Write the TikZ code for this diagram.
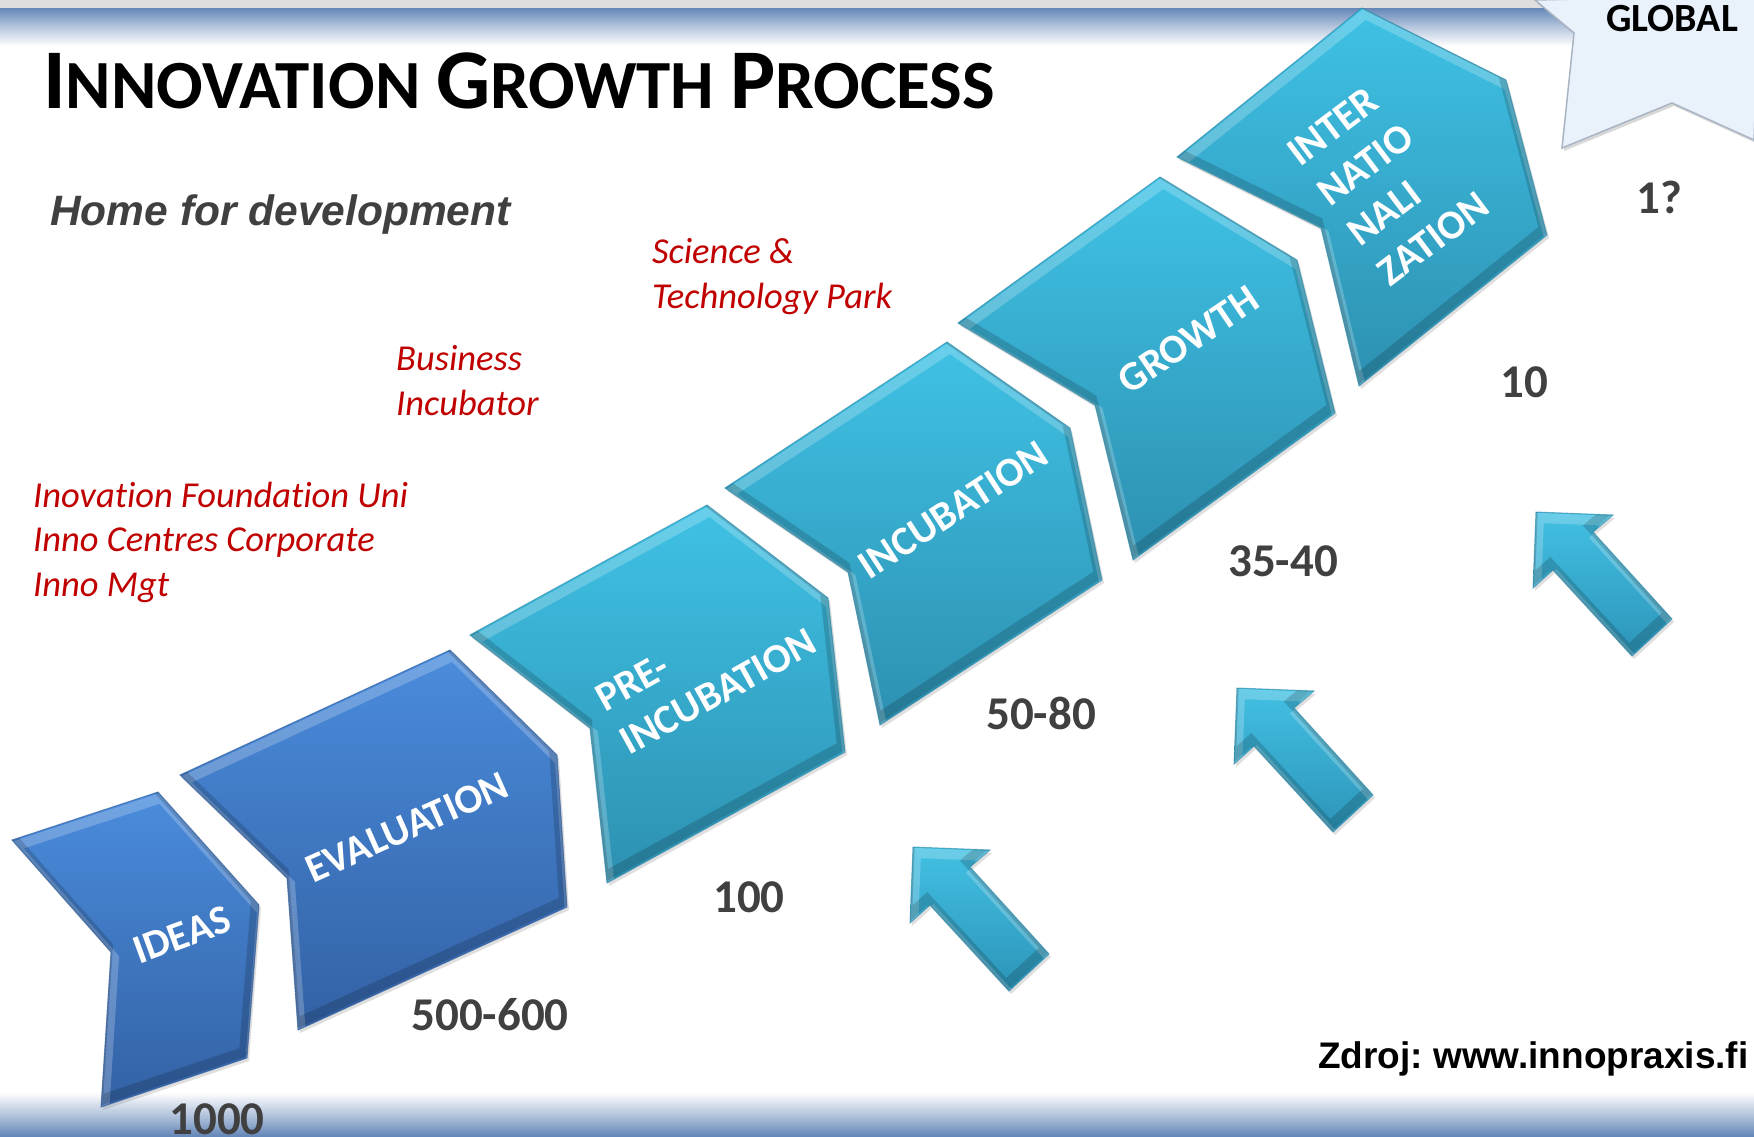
\documentclass[tikz,border=0pt]{standalone}
\usepackage{fontspec}
\setmainfont{Carlito}[Ligatures=NoCommon]
\newfontfamily\arialf{Liberation Sans}
\usetikzlibrary{shadows}
\frenchspacing
\definecolor{blueTop}{HTML}{4A8CDC}
\definecolor{blueBot}{HTML}{3361A4}
\definecolor{blueEdge}{HTML}{2E5A9A}
\definecolor{tealTop}{HTML}{3FC2E5}
\definecolor{tealBot}{HTML}{2D90B1}
\definecolor{tealEdge}{HTML}{2A86A6}
\definecolor{numGray}{HTML}{404040}
\definecolor{redText}{HTML}{C00000}
\definecolor{hdrBlue}{HTML}{6487B9}
\definecolor{hdrMid}{HTML}{B3C4DC}
\definecolor{hdrGray}{HTML}{DEDEDE}
\definecolor{globalFill}{HTML}{E9F1FB}
\definecolor{globalEdge}{HTML}{A9B5C3}
\definecolor{arrowTop}{HTML}{42C0E3}
\definecolor{arrowBot}{HTML}{2C94B8}
\definecolor{arrowEdge}{HTML}{2A86A6}

\tikzset{
  blueshape/.style={top color=blueTop, bottom color=blueBot,
    drop shadow={opacity=0.25, shadow xshift=2pt, shadow yshift=-3pt}},
  tealshape/.style={top color=tealTop, bottom color=tealBot,
    drop shadow={opacity=0.25, shadow xshift=2pt, shadow yshift=-3pt}},
  arrowshape/.style={top color=arrowTop, bottom color=arrowBot,
    drop shadow={opacity=0.25, shadow xshift=2pt, shadow yshift=-3pt}},
  lbl/.style={text=white, font=\bfseries\fontsize{41}{50}\selectfont, inner sep=0pt},
  num/.style={text=numGray, font=\bfseries\fontsize{47}{50}\selectfont, inner sep=0pt, anchor=base},
  redtxt/.style={text=redText, font=\itshape\fontsize{36.5}{44.5}\selectfont, inner sep=0pt, align=left, anchor=base west},
}

\newcommand\bevelshape[3]{%
  \path[#1] #2;
  \begin{scope}
    \clip #2;
    \draw[white, opacity=0.22, line width=10pt, shift={(3,6)}] #2;
    \draw[black, opacity=0.16, line width=10pt, shift={(-3,-6)}] #2;
  \end{scope}
  \draw[#3, line width=1pt, opacity=0.6] #2;
}

\def\pIdeas{(12,840) -- (158,792) -- (259,905) -- (247,1058) -- (101,1107) -- (111,952) -- cycle}
\def\pEval{(180,775) -- (450,650) -- (557,755) -- (567,907) -- (298,1030) -- (287,878) -- cycle}
\def\pPre{(470,635) -- (707,505) -- (828,598) -- (845,752) -- (607,883) -- (590,728) -- cycle}
\def\pInc{(725,488) -- (947,342) -- (1070,428) -- (1102,580) -- (880,725) -- (848,572) -- cycle}
\def\pGro{(958,323) -- (1160,177) -- (1297,260) -- (1335,413) -- (1133,560) -- (1095,405) -- cycle}
\def\pInt{(1177,157) -- (1362,8) -- (1506,80) -- (1547,235) -- (1359,386) -- (1321,228) -- cycle}
\def\pArrow{(0,0) -- (77,3) -- (57,20) -- (136,107) -- (96,144) -- (17,58) -- (-3,76) -- cycle}
\def\pGlob{(1535,0) -- (1574,33) -- (1562,148) -- (1672,103) -- (1754,140) -- (1760,-5) -- cycle}

\newcommand\bigC[1]{{\fontsize{85}{85}\selectfont #1}}
\newcommand\smC[1]{{\fontsize{69}{69}\selectfont #1}}

\begin{document}
\begin{tikzpicture}[x=1pt,y=-1pt]
\useasboundingbox (0,0) rectangle (1754,1136);
\clip (0,0) rectangle (1754,1136);
\fill[white] (0,0) rectangle (1754,1136);

% header and footer bands
\fill[hdrGray] (0,0) rectangle (1754,8);
\shade[top color=hdrBlue, bottom color=hdrMid] (0,8) rectangle (1754,26);
\shade[top color=hdrMid, bottom color=white] (0,26) rectangle (1754,46);
\shade[top color=white, bottom color=hdrMid] (0,1092) rectangle (1754,1115);
\shade[top color=hdrMid, bottom color=hdrBlue] (0,1115) rectangle (1754,1136);

% GLOBAL burst
\path[fill=globalFill, draw=globalEdge, line width=1.5pt,
  drop shadow={opacity=0.3, shadow xshift=2pt, shadow yshift=-3pt}] \pGlob;

% process shapes
\bevelshape{blueshape}{\pIdeas}{blueEdge}
\bevelshape{blueshape}{\pEval}{blueEdge}
\bevelshape{tealshape}{\pPre}{tealEdge}
\bevelshape{tealshape}{\pInc}{tealEdge}
\bevelshape{tealshape}{\pGro}{tealEdge}
\bevelshape{tealshape}{\pInt}{tealEdge}

% block arrows
\begin{scope}[shift={(913,847)}]
  \bevelshape{arrowshape}{\pArrow}{arrowEdge}
\end{scope}
\begin{scope}[shift={(1237,688)}]
  \bevelshape{arrowshape}{\pArrow}{arrowEdge}
\end{scope}
\begin{scope}[shift={(1536,512)}]
  \bevelshape{arrowshape}{\pArrow}{arrowEdge}
\end{scope}

% shape labels
\node[lbl, rotate=20] (ideasL) at (182,935) {IDEAS};
\node[lbl, rotate=24] (evalL) at (407,827) {EVALUATION};
\node[lbl, rotate=29, align=left] (preL) at (706,670) {PRE-\\INCUBATION};
\node[lbl, rotate=33] (incL) at (953,510) {INCUBATION};
\node[lbl, rotate=34] (groL) at (1188,340) {GROWTH};
\node[lbl, rotate=37, align=left] (intL) at (1388,179) {INTER\\NATIO\\NALI\\ZATION};

% numbers
\node[num] (n1000) at (217,1134) {1000};
\node[num] (n500) at (490,1030) {500-600};
\node[num] (n100) at (749,912) {100};
\node[num] (n50) at (1041,729) {50-80};
\node[num] (n35) at (1283,576) {35-40};
\node[num] (n10) at (1524,397) {10};
\node[num] (n1) at (1659,213) {1?};
\node[anchor=base, inner sep=0pt, font=\bfseries\fontsize{40}{40}\selectfont] (glob) at (1672,31) {GLOBAL};

% title and texts
\node[anchor=base west, inner sep=0pt, font=\bfseries\fontsize{69}{69}\selectfont] (title) at (43,108)
  {\bigC{I}\smC{NNOVATION} \bigC{G}\smC{ROWTH} \bigC{P}\smC{ROCESS}};
\node[anchor=base west, inner sep=0pt, text=numGray,
  font={\arialf\fontsize{42.5}{50}\selectfont\bfseries\itshape}] (home) at (50,225) {Home for development};

% multi-line nodes: base anchor is the last line's baseline
\node[redtxt] (stp) at (652,308) {Science \&\\Technology Park};
\node[redtxt] (bi) at (396,415) {Business\\Incubator};
\node[redtxt] (ifu) at (33,596) {Inovation Foundation Uni\\Inno Centres Corporate\\Inno Mgt};

\node[anchor=base west, inner sep=0pt, font={\arialf\fontsize{37}{40}\selectfont\bfseries}] (src) at (1318,1068) {Zdroj: www.innopraxis.fi};
\end{tikzpicture}
\end{document}
